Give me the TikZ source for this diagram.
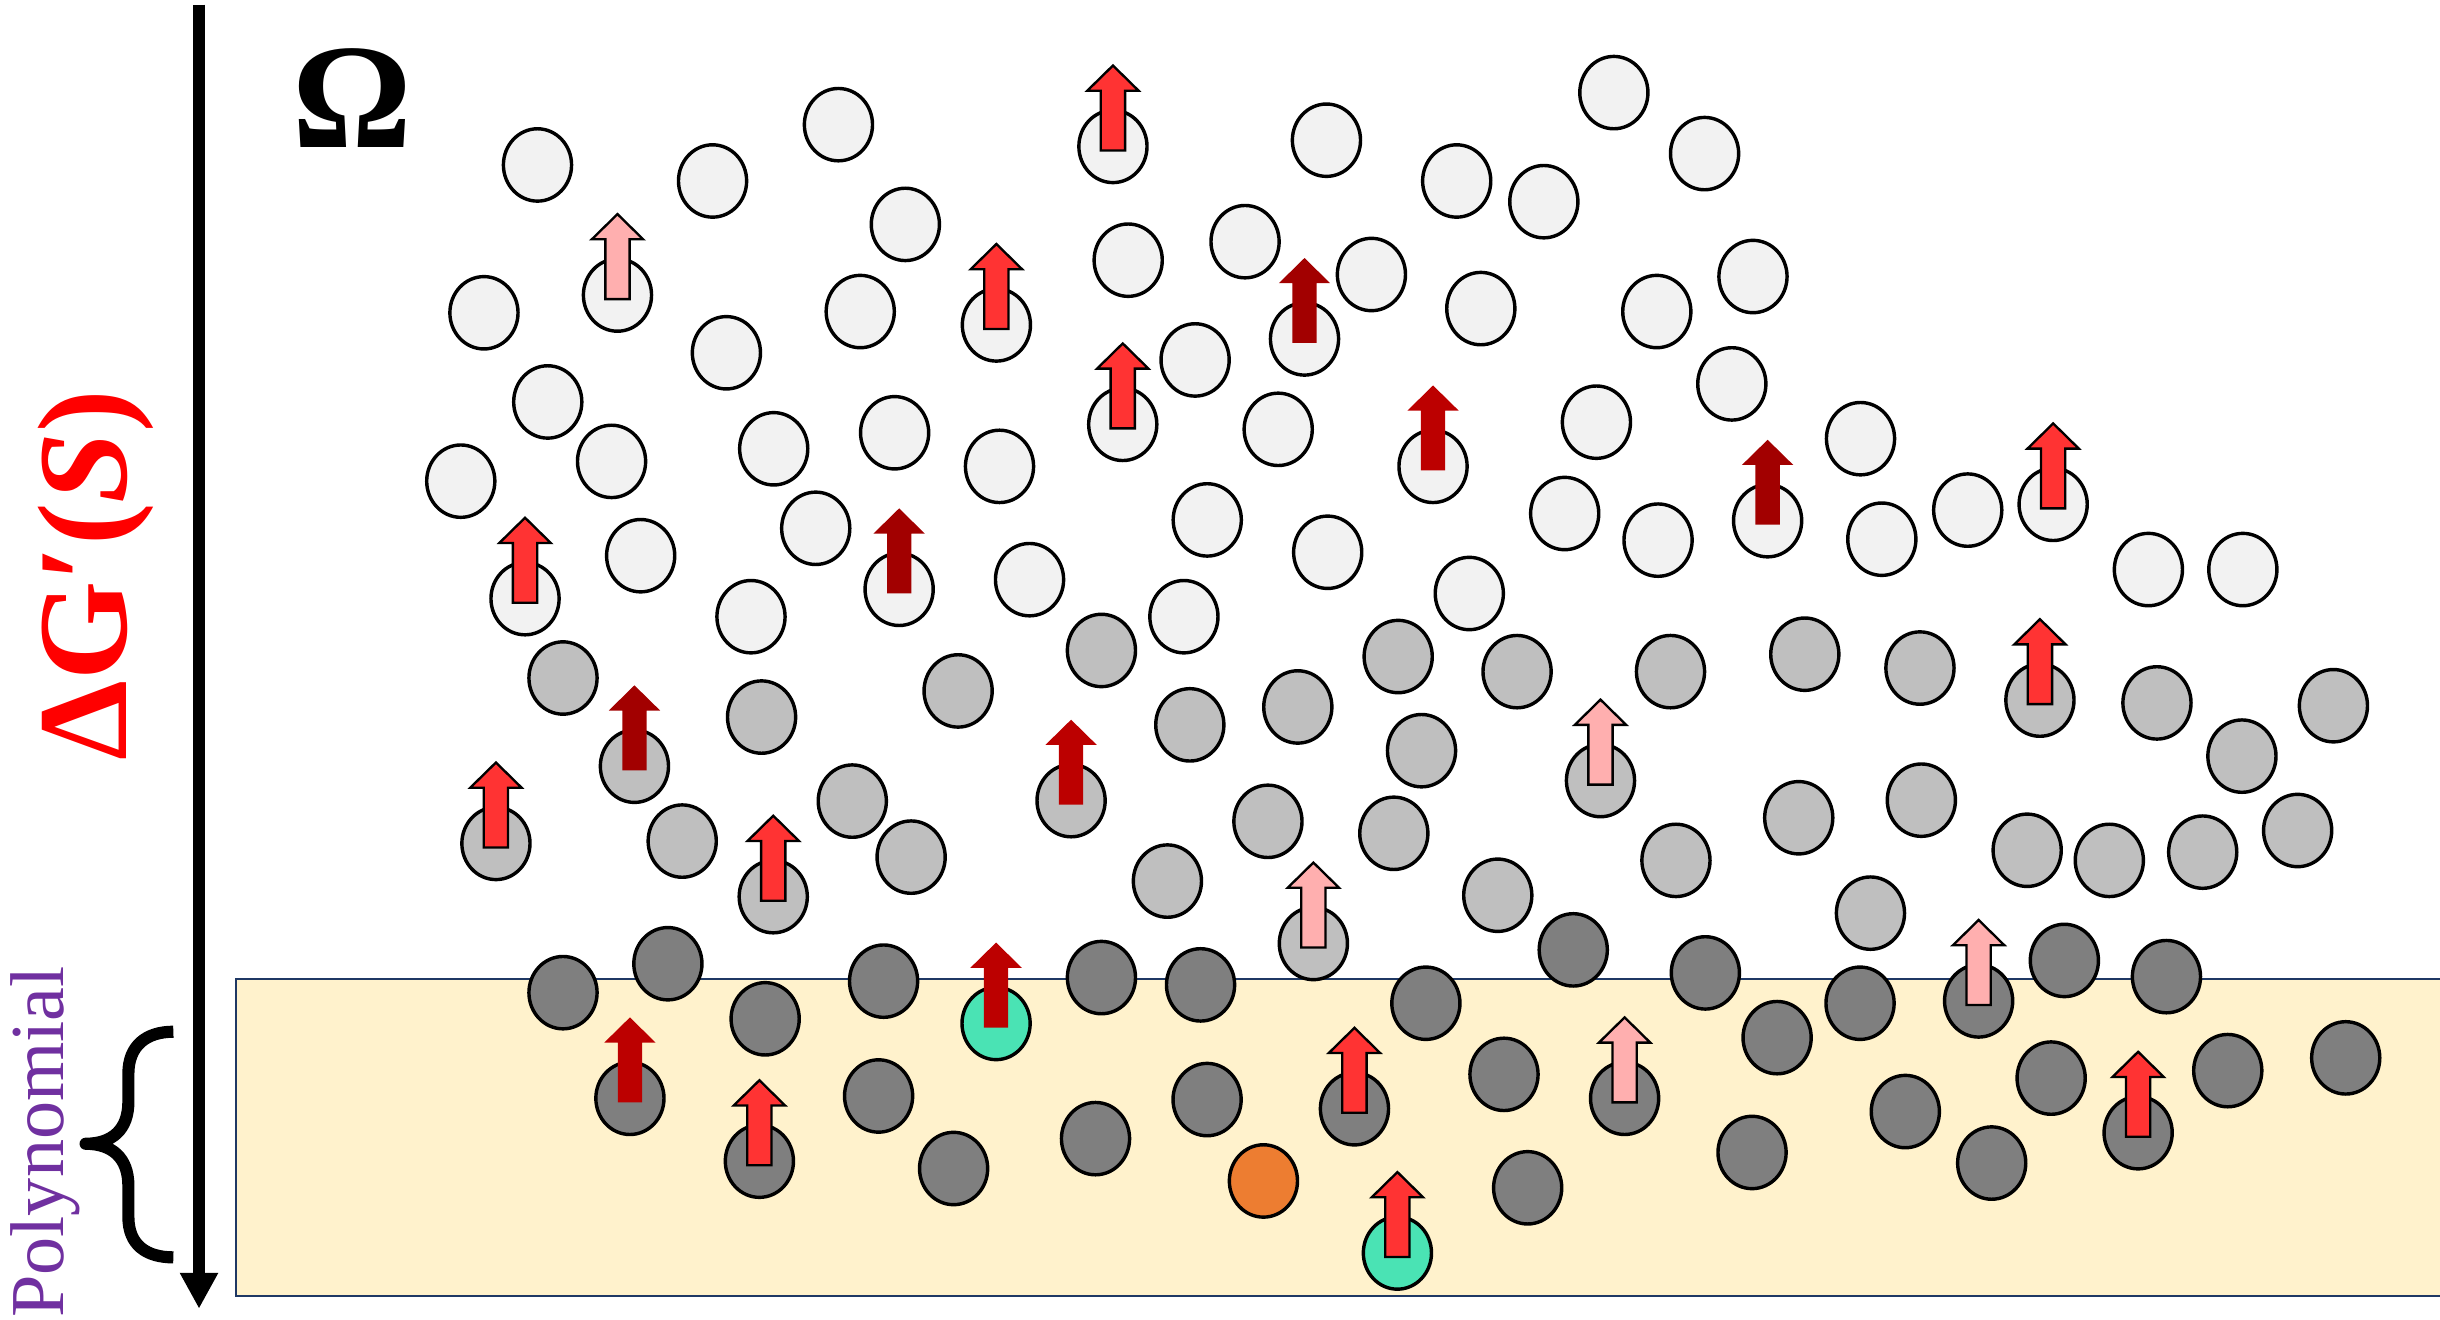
\documentclass[tikz,border=0pt]{standalone}
\usepackage{fontspec}
\usetikzlibrary{shapes.geometric,arrows.meta}
\newfontfamily\timesf{Liberation Serif}
\definecolor{clight}{HTML}{F2F2F2}
\definecolor{cgray}{HTML}{BFBFBF}
\definecolor{cdark}{HTML}{7F7F7F}
\definecolor{cteal}{HTML}{4AE3B4}
\definecolor{corange}{HTML}{ED7D31}
\definecolor{cred}{HTML}{FF3333}
\definecolor{cpink}{HTML}{FFAFAF}
\definecolor{cdka}{HTML}{A20000}
\definecolor{cdkb}{HTML}{BC0000}
\definecolor{cbox}{HTML}{FFF2CC}
\definecolor{cnavy}{HTML}{1F3864}
\definecolor{cpurple}{HTML}{7030A0}
\definecolor{ctxtred}{HTML}{FF0000}
\begin{document}
\begin{tikzpicture}[x=1pt,y=-1pt,
  ball/.style={ellipse, draw=black, line width=2.2pt, minimum width=43.8pt, minimum height=46.5pt, inner sep=0pt, outer sep=0pt},
  lightc/.style={ball, fill=clight},
  grayc/.style={ball, fill=cgray},
  darkc/.style={ball, fill=cdark},
  tealc/.style={ball, fill=cteal},
  orangec/.style={ball, fill=corange},
  uparrow/.pic={\path[pic actions] (-7.8,2.6) -- (-7.8,-35.8) -- (-16.5,-35.8) -- (0,-52) -- (16.5,-35.8) -- (7.8,-35.8) -- (7.8,2.6) -- cycle;},
  arrred/.style={fill=cred, draw=black, line width=1.5pt, line join=miter},
  arrpink/.style={fill=cpink, draw=black, line width=1.5pt, line join=miter},
  arrdka/.style={fill=cdka},
  arrdkb/.style={fill=cdkb}]
\useasboundingbox (0,0) rectangle (1568,848);

% polymer region box
\path[fill=cbox, draw=cnavy, line width=1.5pt] (151.5,629.3) rectangle (1585,833);

% light circles
\foreach \px/\py [count=\i] in {345.4/106.0, 457.9/116.3, 538.8/80.1, 581.8/144.2, 311/201, 396.8/189.6, 466.8/226.7, 552.8/200.2, 640.3/208.8, 352/258.3,
 393/296.5, 296.1/309.2, 497.2/288.4, 574.9/278.1, 642.3/299.7, 524.2/339.5, 337.4/384.7, 411.7/357.1, 482.6/396.3, 577.8/378.7,
 661.6/372.5, 715.2/94.1, 852.4/90.1, 936.1/116.3, 992.1/129.6, 1037.1/59.5, 1095.4/98.7, 725/167.2, 800.1/155.3, 838.3/217.8,
 881.3/176.4, 951.6/198.3, 1064.7/200.2, 1126.5/177.7, 721.5/272.7, 768/231.3, 821.4/275.9, 920.9/299.7, 1025.9/271.3, 1112.9/246.7,
 775.8/334.1, 853.2/354.9, 1005.5/330, 1065.5/347.1, 944.2/381.4, 760.8/396.3, 1135.9/334.6, 1195.6/281.9, 1209.3/346.5, 1264.5/327.8,
 1319.4/324.1, 1380.6/366, 1441.3/366}
  \node[lightc] (L\i) at (\px,\py) {};

% gray circles
\foreach \px/\py [count=\i] in {361.8/435.7, 407.7/492.4, 489.4/460.8, 615.7/444, 707.8/418, 318.7/542, 438.4/540.5, 496.9/576.2, 547.7/514.8, 585.5/550.8,
 688.3/514.5, 764.6/465.8, 834/454.3, 898.5/421.9, 974.9/431.6, 1073.5/431.6, 913.5/482.4, 1028.5/501.6, 814.8/527.8, 895.7/535.5,
 750.2/566.2, 962.5/575.3, 1077/552.9, 844/606.3, 1159.8/420.4, 1233.8/429.3, 1310.9/449.9, 1386.1/451.7, 1440.7/485.9, 1499.5/453.5,
 1155.9/525.5, 1234.7/514.2, 1302.7/546.4, 1355.5/552.9, 1415.5/547.6, 1476.5/533.7, 1202/586.8}
  \node[grayc] (G\i) at (\px,\py) {};

% dark circles
\foreach \px/\py [count=\i] in {361.8/637.9, 429.2/619.3, 491.7/654.7, 567.8/630.5, 707.8/628.2, 404.8/705.8, 488/746.2, 564.6/704.3, 612.8/750.9, 704/731.7,
 771.5/632.9, 916.3/644.7, 1011/610.4, 1095.9/625.2, 775.7/706.6, 870.4/712.5, 966.5/690.4, 1044/705.8, 981.7/763.3, 1142/666.8,
 1195.3/644.7, 1271.5/643.2, 1326.6/617.2, 1392.2/627.6, 1125.9/740.6, 1224.4/714.3, 1279.9/747.4, 1318.1/692.8, 1374/727.9, 1431.6/688,
 1507.4/679.8}
  \node[darkc] (D\i) at (\px,\py) {};

\node[tealc] (T1) at (640.1,657.7) {};
\node[tealc] (T2) at (898,805.2) {};
\node[orangec] (O1) at (811.9,758.9) {};

% arrows
\foreach \n in {L9,L17,L22,L35,L51,G6,G8,G27,D7,D16,D29,T2}
  \pic[arrred] at (\n.center) {uparrow};
\foreach \n in {L6,G18,G24,D18,D22}
  \pic[arrpink] at (\n.center) {uparrow};
\foreach \n in {L20,L30,L47,G2}
  \pic[arrdka] at (\n.center) {uparrow};
\foreach \n in {L38,G11,D6,T1}
  \pic[arrdkb] at (\n.center) {uparrow};

% axis arrow
\coordinate (atop) at (127.9,3);
\coordinate (abot) at (127.9,841);
\draw[line width=7.5pt, -{Triangle[width=23pt,length=23pt]}] (atop) -- (abot);

% brace
\draw[line width=7.8pt, line join=round] (111.4,663) .. controls (94,663) and (82.5,672) .. (82.5,690) -- (82.5,708)
  .. controls (82.5,726) and (72,735) .. (55,735) .. controls (72,735) and (82.5,744) .. (82.5,762) -- (82.5,782)
  .. controls (82.5,800) and (94,808) .. (111.4,808);

% texts
\node[font=\timesf\bfseries\fontsize{96}{96}\selectfont, inner sep=0pt] (omega) at (226.5,63) {Ω};
\node[rotate=90, anchor=base west, inner sep=0pt, text=ctxtred, font=\timesf\bfseries\fontsize{82}{82}\selectfont] (dg) at (81,489) {ΔG′(\textit{S})};
\node[rotate=90, anchor=base west, inner sep=0pt, text=cpurple, font=\timesf\fontsize{49}{49}\selectfont] (poly) at (41,847) {Polynomial};
\end{tikzpicture}
\end{document}
